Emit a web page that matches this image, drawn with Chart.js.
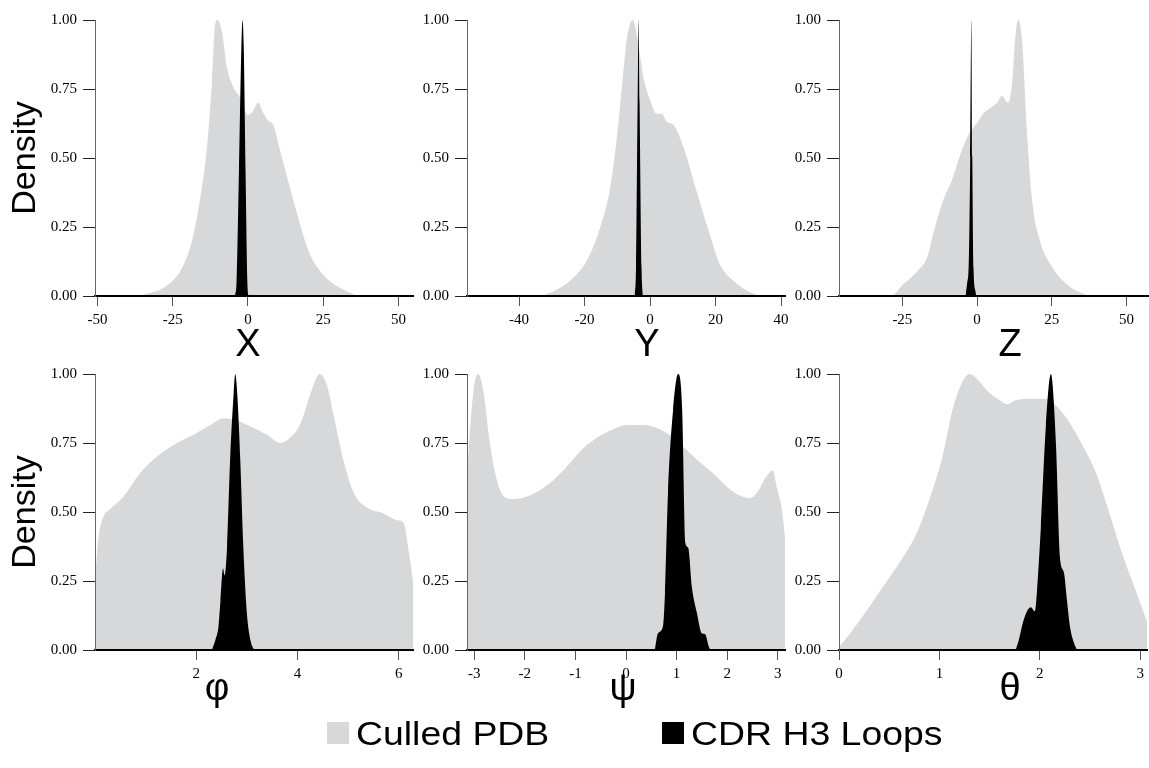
<!DOCTYPE html>
<html>
<head>
<meta charset="utf-8">
<script src="https://cdn.jsdelivr.net/npm/chart.js@4.4.1/dist/chart.umd.min.js"></script>
<style>
  body { margin: 0; background: #fff; width: 1149px; height: 768px; position: relative; overflow: hidden; }
  canvas { position: absolute; }
  .legend { position: absolute; font-family: "Liberation Sans", Arial, sans-serif; font-size: 34px; line-height: 34px; color: #000; }
  .sw { position: absolute; width: 22px; height: 22px; }
  .lbl { position: absolute; white-space: nowrap; transform: scaleX(1.1); transform-origin: left top; }
</style>
</head>
<body>
<canvas id="pX" width="425" height="360" style="left:0;top:0"></canvas>
<canvas id="pY" width="384" height="360" style="left:413px;top:0"></canvas>
<canvas id="pZ" width="364" height="360" style="left:785px;top:0"></canvas>
<canvas id="pPhi" width="425" height="356" style="left:0;top:354px"></canvas>
<canvas id="pPsi" width="384" height="356" style="left:413px;top:354px"></canvas>
<canvas id="pTheta" width="364" height="356" style="left:785px;top:354px"></canvas>
<div class="legend" style="left:0;top:0;width:1149px;height:768px">
  <div class="sw" style="left:327px;top:722px;background:#d7d8da"></div>
  <div class="lbl" style="left:356px;top:716px">Culled PDB</div>
  <div class="sw" style="left:662px;top:722px;background:#000"></div>
  <div class="lbl" style="left:691px;top:716px">CDR H3 Loops</div>
</div>
<script>
// densities, scaled so each curve peaks at 1 — [value, density]
const pdbX = [[-51,0],[-38,0],[-33,0.01],[-28,0.03],[-22,0.1],[-18.6,0.2],[-16,0.345],[-13.7,0.53],[-12,0.77],[-11,0.975],[-10.2,1],[-8.7,0.96],[-7,0.83],[-5,0.76],[-2.7,0.72],[0,0.655],[1.7,0.67],[3.4,0.7],[5,0.665],[6.7,0.635],[8.4,0.62],[10.6,0.53],[14,0.39],[17.3,0.26],[20.6,0.15],[24,0.09],[28,0.047],[33.9,0.012],[37,0],[55,0]];
const h3X = [[-4.3,0],[-3.8,0.05],[-3,0.45],[-2.2,0.9],[-1.8,1],[-1.4,0.9],[-0.8,0.45],[-0.2,0.05],[0.2,0]];

const pdbY = [[-56,0],[-34.5,0],[-27.4,0.03],[-22.3,0.08],[-19.2,0.13],[-15.2,0.25],[-12.2,0.39],[-10.1,0.58],[-8.5,0.77],[-7.1,0.93],[-5.3,1],[-4.1,0.95],[-2,0.79],[0,0.71],[2,0.66],[3.6,0.66],[5.1,0.63],[7.1,0.62],[10.2,0.54],[14.2,0.38],[18.3,0.22],[21.3,0.115],[25.4,0.055],[29.5,0.02],[34.5,0],[42,0]];
const h3Y = [[-4.7,0],[-4.3,0.1],[-3.8,0.7],[-3.5,1],[-3.2,0.7],[-2.6,0.1],[-2.2,0]];

const pdbZ = [[-47,0],[-29,0],[-24.7,0.043],[-20,0.09],[-16.7,0.14],[-14.7,0.225],[-11.4,0.345],[-8.4,0.42],[-5.7,0.51],[-3.3,0.575],[-1.3,0.61],[0.3,0.63],[2,0.66],[4.3,0.68],[6.6,0.7],[8.3,0.725],[10.4,0.7],[11.7,0.77],[12.7,0.93],[13.7,1],[15,0.93],[16.7,0.59],[18.4,0.345],[21,0.2],[25.4,0.1],[30,0.043],[35.5,0.008],[37.8,0],[58,0]];
const h3Z = [[-3.9,0],[-3.3,0.05],[-2.8,0.12],[-2.3,0.5],[-1.9,1],[-1.6,0.5],[-1.2,0.1],[-0.6,0.02],[-0.3,0]];

const pdbPhi = [[0,0.25],[0.02,0.3],[0.065,0.4],[0.16,0.48],[0.3,0.51],[0.56,0.555],[0.89,0.64],[1.22,0.7],[1.62,0.75],[1.95,0.78],[2.28,0.815],[2.54,0.84],[2.74,0.835],[3.07,0.81],[3.4,0.78],[3.66,0.75],[3.86,0.77],[4.06,0.82],[4.26,0.93],[4.44,1],[4.59,0.955],[4.72,0.845],[4.92,0.68],[5.11,0.57],[5.38,0.515],[5.7,0.495],[5.98,0.47],[6.1,0.46],[6.18,0.38],[6.283,0.25]];
const h3Phi = [[2.31,0],[2.38,0.037],[2.44,0.085],[2.48,0.18],[2.53,0.295],[2.56,0.27],[2.61,0.375],[2.67,0.69],[2.74,0.93],[2.77,1],[2.81,0.93],[2.87,0.69],[2.93,0.375],[3,0.135],[3.07,0.037],[3.13,0.005],[3.16,0]];

const pdbPsi = [[-3.1416,0.62],[-3.13,0.66],[-3.02,0.93],[-2.92,1],[-2.82,0.94],[-2.69,0.75],[-2.55,0.615],[-2.43,0.56],[-2.23,0.547],[-1.9,0.56],[-1.5,0.605],[-1.17,0.665],[-0.85,0.73],[-0.57,0.77],[-0.25,0.8],[0.01,0.815],[0.34,0.815],[0.67,0.8],[0.93,0.77],[1.2,0.725],[1.46,0.68],[1.72,0.64],[2,0.59],[2.25,0.56],[2.45,0.55],[2.59,0.57],[2.78,0.63],[2.9,0.65],[2.98,0.59],[3.08,0.51],[3.1416,0.41]];
const h3Psi = [[0.57,0],[0.63,0.06],[0.73,0.085],[0.77,0.205],[0.83,0.57],[0.93,0.87],[1.03,1],[1.11,0.87],[1.17,0.39],[1.23,0.37],[1.3,0.23],[1.4,0.135],[1.5,0.06],[1.56,0.058],[1.64,0.01],[1.67,0]];

const pdbTheta = [[0,0.01],[0.11,0.06],[0.28,0.145],[0.44,0.23],[0.6,0.315],[0.77,0.42],[0.9,0.545],[1.03,0.7],[1.13,0.87],[1.22,0.965],[1.3,1],[1.38,0.98],[1.5,0.93],[1.6,0.905],[1.68,0.89],[1.76,0.905],[1.92,0.91],[2.06,0.91],[2.19,0.875],[2.32,0.81],[2.45,0.725],[2.55,0.65],[2.68,0.51],[2.81,0.36],[2.95,0.22],[3.07,0.1]];
const h3Theta = [[1.76,0],[1.79,0.035],[1.84,0.11],[1.91,0.155],[1.95,0.14],[1.97,0.205],[2.01,0.445],[2.06,0.81],[2.11,1],[2.16,0.75],[2.2,0.335],[2.24,0.28],[2.27,0.18],[2.3,0.085],[2.34,0.025],[2.37,0]];

const ticksX = [-50, -25, 0, 25, 50];
const ticksY = [-40, -20, 0, 20, 40];
const ticksZ = [-25, 0, 25, 50];
const ticksPhi = [2, 4, 6];
const ticksPsi = [-3, -2, -1, 0, 1, 2, 3];
const ticksTheta = [0, 1, 2, 3];
const densityTicks = [0, 0.25, 0.5, 0.75, 1];

const GREY = "#d7d8da";
const SERIF = "'Liberation Serif', 'Times New Roman', serif";
const SANS = "'Liberation Sans', Arial, Helvetica, sans-serif";

// draws the big axis symbol under each panel
const axisName = {
  id: "axisName",
  afterDraw(chart, args, opts) {
    const ctx = chart.ctx;
    ctx.save();
    ctx.font = "38px " + SANS;
    ctx.fillStyle = "#000";
    ctx.textAlign = "center";
    ctx.textBaseline = "alphabetic";
    ctx.fillText(opts.text, chart.chartArea.left + opts.dx, opts.y);
    ctx.restore();
  }
};

function panel(id, pdb, h3, xMin, xMax, xTicks, name, nameDx, col, row) {
  new Chart(document.getElementById(id), {
    type: "line",
    data: {
      datasets: [
        { label: "CDR H3 Loops", data: h3, backgroundColor: "#000", borderColor: "#000" },
        { label: "Culled PDB", data: pdb, backgroundColor: GREY, borderColor: GREY }
      ]
    },
    options: {
      responsive: false,
      animation: false,
      datasets: { line: { fill: "origin", borderWidth: 0, pointRadius: 0, cubicInterpolationMode: "monotone" } },
      layout: { padding: { top: 20, right: col === 2 ? 0 : 12, bottom: 0, left: 0 } },
      plugins: {
        legend: { display: false },
        tooltip: { enabled: false },
        axisName: { text: name, dx: nameDx, y: row === 0 ? 356 : 346 }
      },
      scales: {
        x: {
          type: "linear", min: xMin, max: xMax,
          afterBuildTicks: (s) => { s.ticks = xTicks.map((v) => ({ value: v })); },
          afterFit: (s) => { s.height = row === 0 ? 64 : 60; },
          ticks: { autoSkip: false, maxRotation: 0, padding: 5, color: "#000", font: { family: SERIF, size: 15 }, callback: (v) => String(v) },
          grid: { drawOnChartArea: false, tickLength: 10, color: "#555" },
          border: { color: "#000", width: 2, z: 1 }
        },
        y: {
          min: 0, max: 1,
          afterBuildTicks: (s) => { s.ticks = densityTicks.map((v) => ({ value: v })); },
          afterFit: (s) => { s.width = col === 0 ? 95 : 54; },
          ticks: { padding: 6, color: "#000", font: { family: SERIF, size: 15 }, callback: (v) => v.toFixed(2) },
          grid: { drawOnChartArea: false, tickLength: 12, color: "#222" },
          border: { color: "#666", width: 1, z: 1 },
          title: { display: col === 0, text: "Density", color: "#000", font: { family: SANS, size: 34, lineHeight: 1 }, padding: { top: 9, bottom: 0 } }
        }
      }
    },
    plugins: [axisName]
  });
}

panel("pX", pdbX, h3X, -50.8, 54.8, ticksX, "X", 153, 0, 0);
panel("pY", pdbY, h3Y, -55.9, 41.2, ticksY, "Y", 180, 1, 0);
panel("pZ", pdbZ, h3Z, -46.2, 57.5, ticksZ, "Z", 171, 2, 0);
panel("pPhi", pdbPhi, h3Phi, 0, 2 * Math.PI, ticksPhi, "φ", 122, 0, 1);
panel("pPsi", pdbPsi, h3Psi, -Math.PI, Math.PI, ticksPsi, "ψ", 156, 1, 1);
panel("pTheta", pdbTheta, h3Theta, 0, 3.07, ticksTheta, "θ", 171, 2, 1);
</script>
</body>
</html>
